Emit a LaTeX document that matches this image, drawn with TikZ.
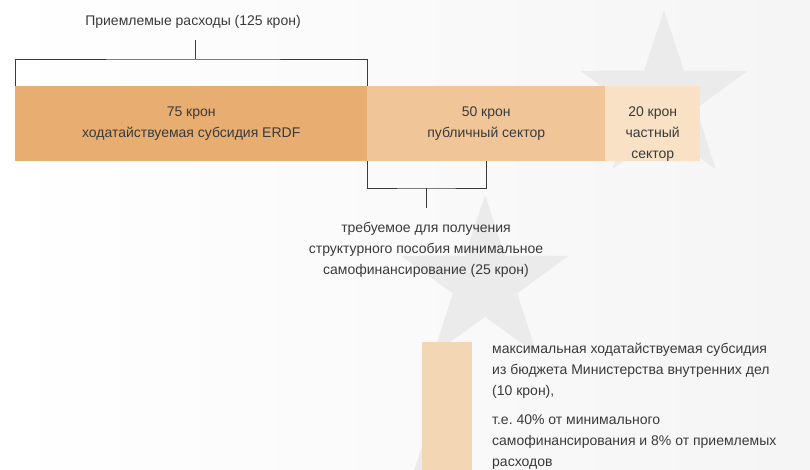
\documentclass[tikz,border=0pt]{standalone}
\usepackage{fontspec}
\setmainfont{Liberation Sans}
\usetikzlibrary{shapes.geometric,positioning}
\frenchspacing
\definecolor{erdfcol}{HTML}{E8AD70}
\definecolor{publiccol}{HTML}{F0C699}
\definecolor{privatecol}{HTML}{F8E1C5}
\definecolor{ministrycol}{HTML}{F3D6B3}
\definecolor{starcol}{HTML}{EBEBEB}
\definecolor{textcol}{HTML}{3A3A3A}

\begin{document}
\begin{tikzpicture}[x=1pt,y=-1pt,
  font=\fontsize{14}{21}\selectfont, text=textcol,
  bgstar/.style={star, star points=5, star point ratio=2.6, minimum size=176pt, inner sep=0pt, fill=starcol},
  bar/.style={anchor=north west, inner sep=0pt, minimum height=75pt},
  label/.style={inner sep=0pt, align=center, anchor=north},
  brace/.style={draw=textcol, line width=0.8pt}]
\shade [left color=white, right color=black!4] (0,0) rectangle (810,470);
\useasboundingbox (0,0) rectangle (810,470);
\node [bgstar] (star1) at (664,98) {};
\node [bgstar] (star2) at (485,283) {};
\node [bgstar] (star3) at (424,528) {};
\node [bar, fill=erdfcol, minimum width=352pt] (erdf) at (15,86) {};
\node [bar, fill=publiccol, minimum width=238pt] (public) at (367,86) {};
\node [bar, fill=privatecol, minimum width=95pt] (private) at (605,86) {};
\node [label, below=21pt of erdf.north] (erdftext) {75 крон\\ходатайствуемая субсидия ERDF};
\node [label, below=21pt of public.north] (publictext) {50 крон\\публичный сектор};
\node [label, below=21pt of private.north] (privatetext) {20 крон\\частный\\сектор};
\node [label] (cost) at (193,15) {Приемлемые расходы (125 крон)};
\coordinate (costbrace) at (195,59);
\coordinate (coststem) at (195,40);
\draw [brace] (erdf.north west) |- (costbrace) -| (erdf.north east);
\draw [brace] (costbrace) -- (coststem);
\coordinate (selfbrace) at (426,188);
\coordinate (selfstem) at (426,208);
\draw [brace] (public.south west) |- (selfbrace) -| (public.south);
\draw [brace] (selfbrace) -- (selfstem);
\node [label, below=14pt of selfstem] (selftext) {требуемое для получения\\структурного пособия минимальное\\самофинансирование (25 крон)};
\node [bar, fill=ministrycol, minimum width=50pt, minimum height=128pt] (ministry) at (422,342) {};
\node [inner sep=0pt, align=left, anchor=north west] (ministrytext) at (492,343) {максимальная ходатайствуемая субсидия\\из бюджета Министерства внутренних дел\\(10 крон),\\[8pt]т.е. 40\% от минимального\\самофинансирования и 8\% от приемлемых\\расходов};
\end{tikzpicture}
\end{document}
